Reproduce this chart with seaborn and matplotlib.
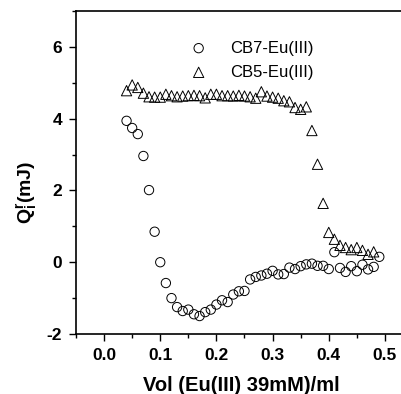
import numpy as np
import pandas as pd
import matplotlib
matplotlib.use("Agg")
import matplotlib.pyplot as plt
import seaborn as sns
from matplotlib.ticker import MultipleLocator

sns.set_style("ticks")
plt.rcParams['font.family'] = ['Liberation Sans', 'DejaVu Sans']
plt.rcParams['mathtext.fontset'] = 'custom'
plt.rcParams['mathtext.rm'] = 'Liberation Sans:bold'
plt.rcParams['mathtext.bf'] = 'Liberation Sans:bold'
plt.rcParams['mathtext.it'] = 'Liberation Sans:bold'
plt.rcParams['text.color'] = 'black'
plt.rcParams['axes.labelcolor'] = 'black'
plt.rcParams['axes.unicode_minus'] = False

vol = [round(0.04 + 0.01 * i, 2) for i in range(46)]  # 0.04 .. 0.49
cb7 = [3.94, 3.74, 3.57, 2.96, 2.01, 0.85, 0.00, -0.58, -1.00, -1.25,
       -1.36, -1.32, -1.45, -1.50, -1.39, -1.32, -1.18, -1.06, -1.11, -0.90,
       -0.81, -0.80, -0.48, -0.41, -0.37, -0.32, -0.24, -0.34, -0.33, -0.15,
       -0.19, -0.11, -0.06, -0.04, -0.10, -0.10, -0.19, 0.28, -0.16, -0.27,
       -0.11, -0.25, -0.07, -0.20, -0.13, 0.15]
vol5 = vol[:45]  # 0.04 .. 0.48
cb5 = [4.78, 4.94, 4.87, 4.71, 4.61, 4.60, 4.60, 4.68, 4.64, 4.61,
       4.63, 4.64, 4.65, 4.64, 4.58, 4.68, 4.68, 4.64, 4.64, 4.63,
       4.65, 4.63, 4.61, 4.57, 4.75, 4.63, 4.60, 4.57, 4.50, 4.47,
       4.31, 4.26, 4.33, 3.67, 2.73, 1.64, 0.83, 0.64, 0.47, 0.41,
       0.35, 0.41, 0.33, 0.22, 0.29]
labels = ["CB7-Eu(III)", "CB5-Eu(III)"]

df7 = pd.DataFrame({"vol": vol, "q": cb7})
df5 = pd.DataFrame({"vol": vol5, "q": cb5})

fig = plt.figure(figsize=(4.01, 3.94), dpi=100)
ax = fig.add_axes([76/401, 60/394, 337/401, 323/394])

sns.scatterplot(data=df7, x="vol", y="q", marker="o", s=45, facecolor="none",
                edgecolor="black", linewidth=0.7, ax=ax, label=labels[0])
sns.scatterplot(data=df5, x="vol", y="q", marker="^", s=55, facecolor="none",
                edgecolor="black", linewidth=0.7, ax=ax, label=labels[1])

ax.set_xlim(-0.05, 0.55)
ax.set_ylim(-2, 7)
ax.xaxis.set_minor_locator(MultipleLocator(0.05))
ax.yaxis.set_major_locator(MultipleLocator(2))
ax.yaxis.set_minor_locator(MultipleLocator(1))
ax.set_xticks([0.0, 0.1, 0.2, 0.3, 0.4, 0.5])
ax.set_xticklabels(["0.0", "0.1", "0.2", "0.3", "0.4", "0.5"])
ax.tick_params(which='major', direction='out', length=5, width=1, pad=5,
               labelsize=12.5, colors='black')
ax.tick_params(which='minor', direction='out', length=3, width=1, colors='black')
for lab in ax.get_xticklabels() + ax.get_yticklabels():
    lab.set_fontweight('bold')
for sp in ax.spines.values():
    sp.set_visible(True)
    sp.set_linewidth(1.2)
    sp.set_color('black')

ax.set_xlabel("Vol (Eu(III) 39mM)/ml", fontsize=14.5, fontweight='bold', color='black')
ax.set_ylabel(r"$\mathregular{Q_i^r}$(mJ)", fontsize=14, fontweight='bold', color='black')
ax.xaxis.set_label_coords(0.49, -0.13)
ax.yaxis.set_label_coords(-0.11, 0.44)

leg = ax.legend(loc='upper left', bbox_to_anchor=(0.27, 0.955), frameon=False,
                fontsize=12, handletextpad=0.9, labelspacing=0.55)
for t in leg.get_texts():
    t.set_color('black')

fig.savefig("out.png", dpi=100)
